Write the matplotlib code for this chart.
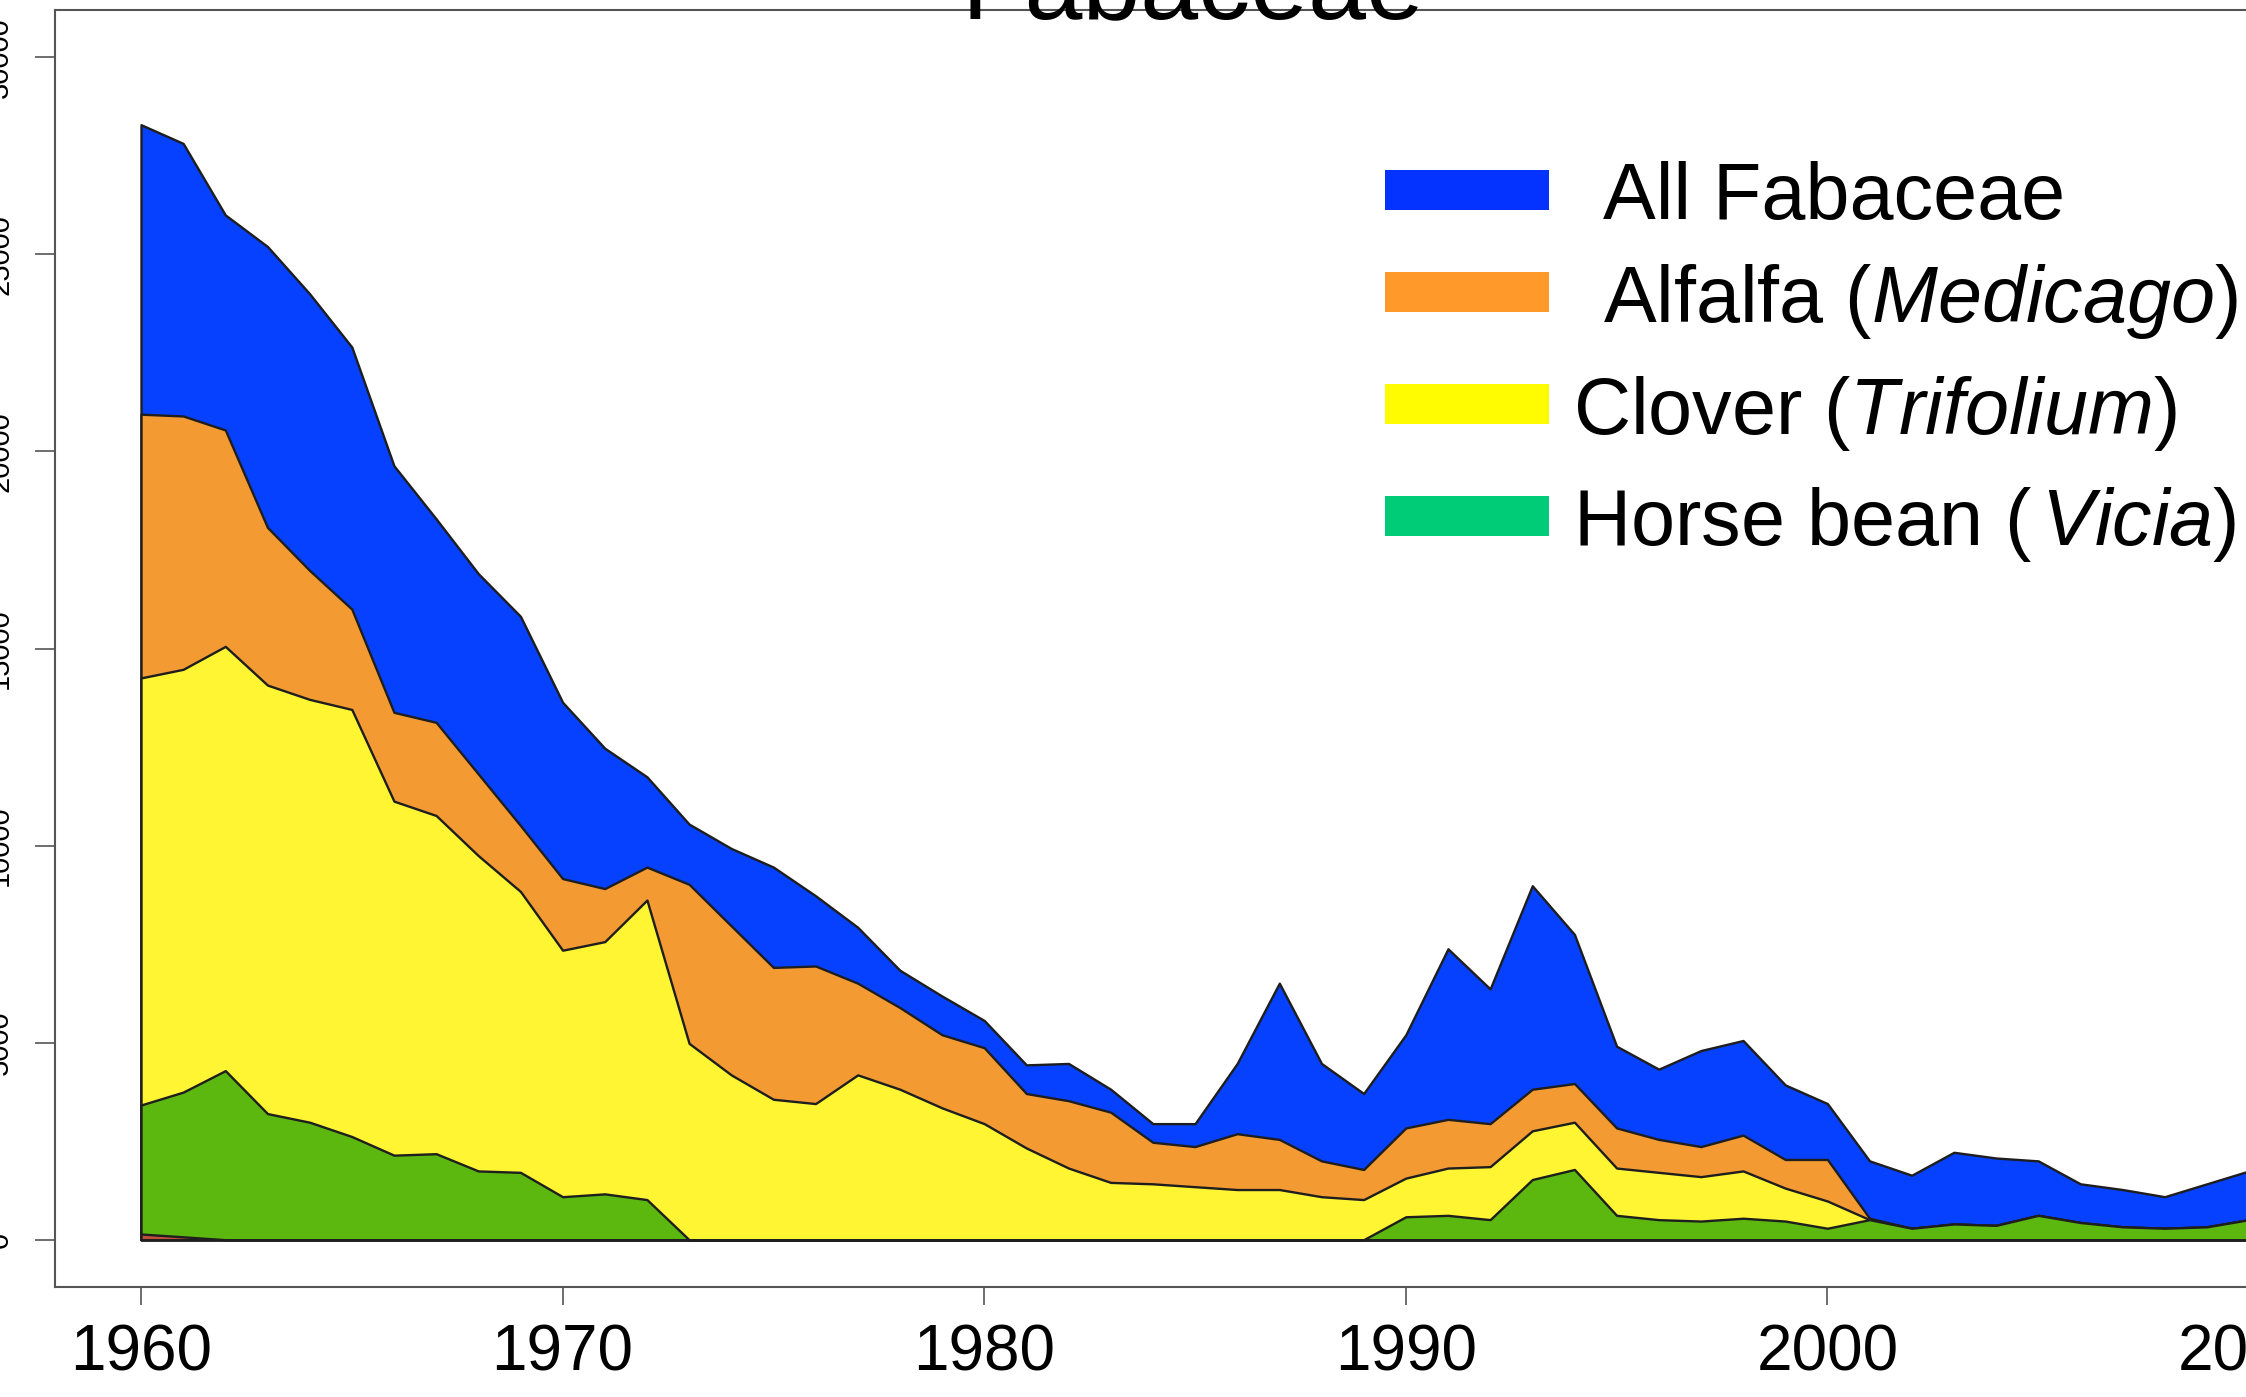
import matplotlib
matplotlib.use('Agg')
import matplotlib.pyplot as plt
from matplotlib.patches import Rectangle

plt.rcParams['font.family'] = ['Liberation Sans', 'DejaVu Sans']
plt.rcParams['mathtext.fontset'] = 'custom'
plt.rcParams['mathtext.rm'] = 'Liberation Sans'
plt.rcParams['mathtext.it'] = 'Liberation Sans:italic'

# ── Data (cumulative tops of each layer) ─────────────────────────────────────
years = list(range(1960, 2012))

all_fabaceae = [28290, 27815, 26000, 25200, 24000, 22650, 19636, 18290, 16900, 15817,
                13636, 12470, 11745, 10545, 9927, 9454, 8727, 7927, 6836, 6182,
                5563, 4436, 4472, 3818, 2945, 2945, 4472, 6509, 4472, 3709,
                5200, 7381, 6363, 8981, 7745, 4909, 4327, 4800, 5054, 3927,
                3454, 2000, 1636, 2218, 2073, 2000, 1418, 1273, 1091, 1418,
                1745, 2000]

alfalfa = [20945, 20900, 20545, 18072, 16981, 16000, 13381, 13127, 11818, 10509,
           9163, 8909, 9454, 9018, 7963, 6909, 6945, 6509, 5890, 5200,
           4872, 3709, 3527, 3236, 2472, 2363, 2690, 2545, 2000, 1782,
           2836, 3054, 2945, 3818, 3963, 2836, 2545, 2363, 2654, 2036,
           2036, 545, 291, 400, 364, 618, 436, 327, 291, 327,
           509, 545]

clover = [14254, 14472, 15054, 14072, 13709, 13454, 11127, 10763, 9745, 8836,
          7345, 7563, 8618, 4982, 4182, 3563, 3454, 4182, 3818, 3345,
          2945, 2327, 1818, 1454, 1418, 1345, 1273, 1273, 1091, 1018,
          1563, 1818, 1854, 2763, 2981, 1818, 1709, 1600, 1745, 1309,
          982, 509, 291, 400, 364, 618, 436, 327, 291, 327,
          509, 545]

vicia = [3418, 3745, 4290, 3200, 2981, 2618, 2145, 2182, 1745, 1709,
         1091, 1163, 1018, 0, 0, 0, 0, 0, 0, 0,
         0, 0, 0, 0, 0, 0, 0, 0, 0, 0,
         582, 618, 509, 1527, 1782, 618, 509, 473, 545, 473,
         291, 509, 291, 400, 364, 618, 436, 327, 291, 327,
         509, 545]

other = [145, 73] + [0] * 50

layers = [
    (all_fabaceae, '#0541FF'),
    (alfalfa,      '#F39A33'),
    (clover,       '#FFF533'),
    (vicia,        '#5CB80F'),
    (other,        '#C0503C'),
]

legend_labels = ['All Fabaceae',
                 r'Alfalfa ($\mathit{Medicago}$)',
                 r'Clover ($\mathit{Trifolium}$)',
                 r'Horse bean ($\,\mathit{Vicia}$)']
legend_colors = ['#0433FF', '#FF9A2A', '#FFFB00', '#00CC77']

# ── Figure ───────────────────────────────────────────────────────────────────
W, H = 2246, 1397
fig = plt.figure(figsize=(W / 100, H / 100), dpi=100)

x0, x1 = 1960 - 0.04 * 51, 2011 + 0.04 * 51
px_per_year = 42.16
ax_w = (x1 - x0) * px_per_year
ax = fig.add_axes([55 / W, (H - 1287) / H, ax_w / W, (1287 - 10) / H])

for top, col in layers:
    ax.fill_between(years, 0, top, facecolor=col, edgecolor='#1e1e1e',
                    linewidth=1.7, zorder=2)

ax.set_xlim(x0, x1)
ax.set_ylim(-1200, 31200)
ax.set_xticks(range(1960, 2020, 10))
ax.set_yticks(range(0, 35000, 5000))

for s in ax.spines.values():
    s.set_color('#555555')
    s.set_linewidth(1.5)

ax.tick_params(axis='x', length=13, width=1.2, color='#555555',
               labelsize=46, pad=13)
ax.tick_params(axis='y', length=14.5, width=1.2, color='#555555',
               labelsize=21, pad=15, labelrotation=90)
for lab in ax.get_yticklabels():
    lab.set_verticalalignment('center')

# ── Title ────────────────────────────────────────────────────────────────────
fig.text(1193 / W, 1 - 18 / H, 'Fabaceae', fontsize=75,
         ha='center', va='baseline')

# ── Legend ───────────────────────────────────────────────────────────────────
rect_tops = [170, 272, 384, 496]
text_x = [1603, 1603, 1573, 1573]
text_base = [219, 322, 434, 545]
for lab, col, rt, tx, tb in zip(legend_labels, legend_colors, rect_tops, text_x, text_base):
    fig.patches.append(Rectangle((1385 / W, 1 - (rt + 40) / H), 164 / W, 40 / H,
                                 transform=fig.transFigure, facecolor=col,
                                 edgecolor='none'))
    fig.text(tx / W, 1 - tb / H, lab, fontsize=57, ha='left', va='baseline')

fig.savefig('out.png', dpi=100)
